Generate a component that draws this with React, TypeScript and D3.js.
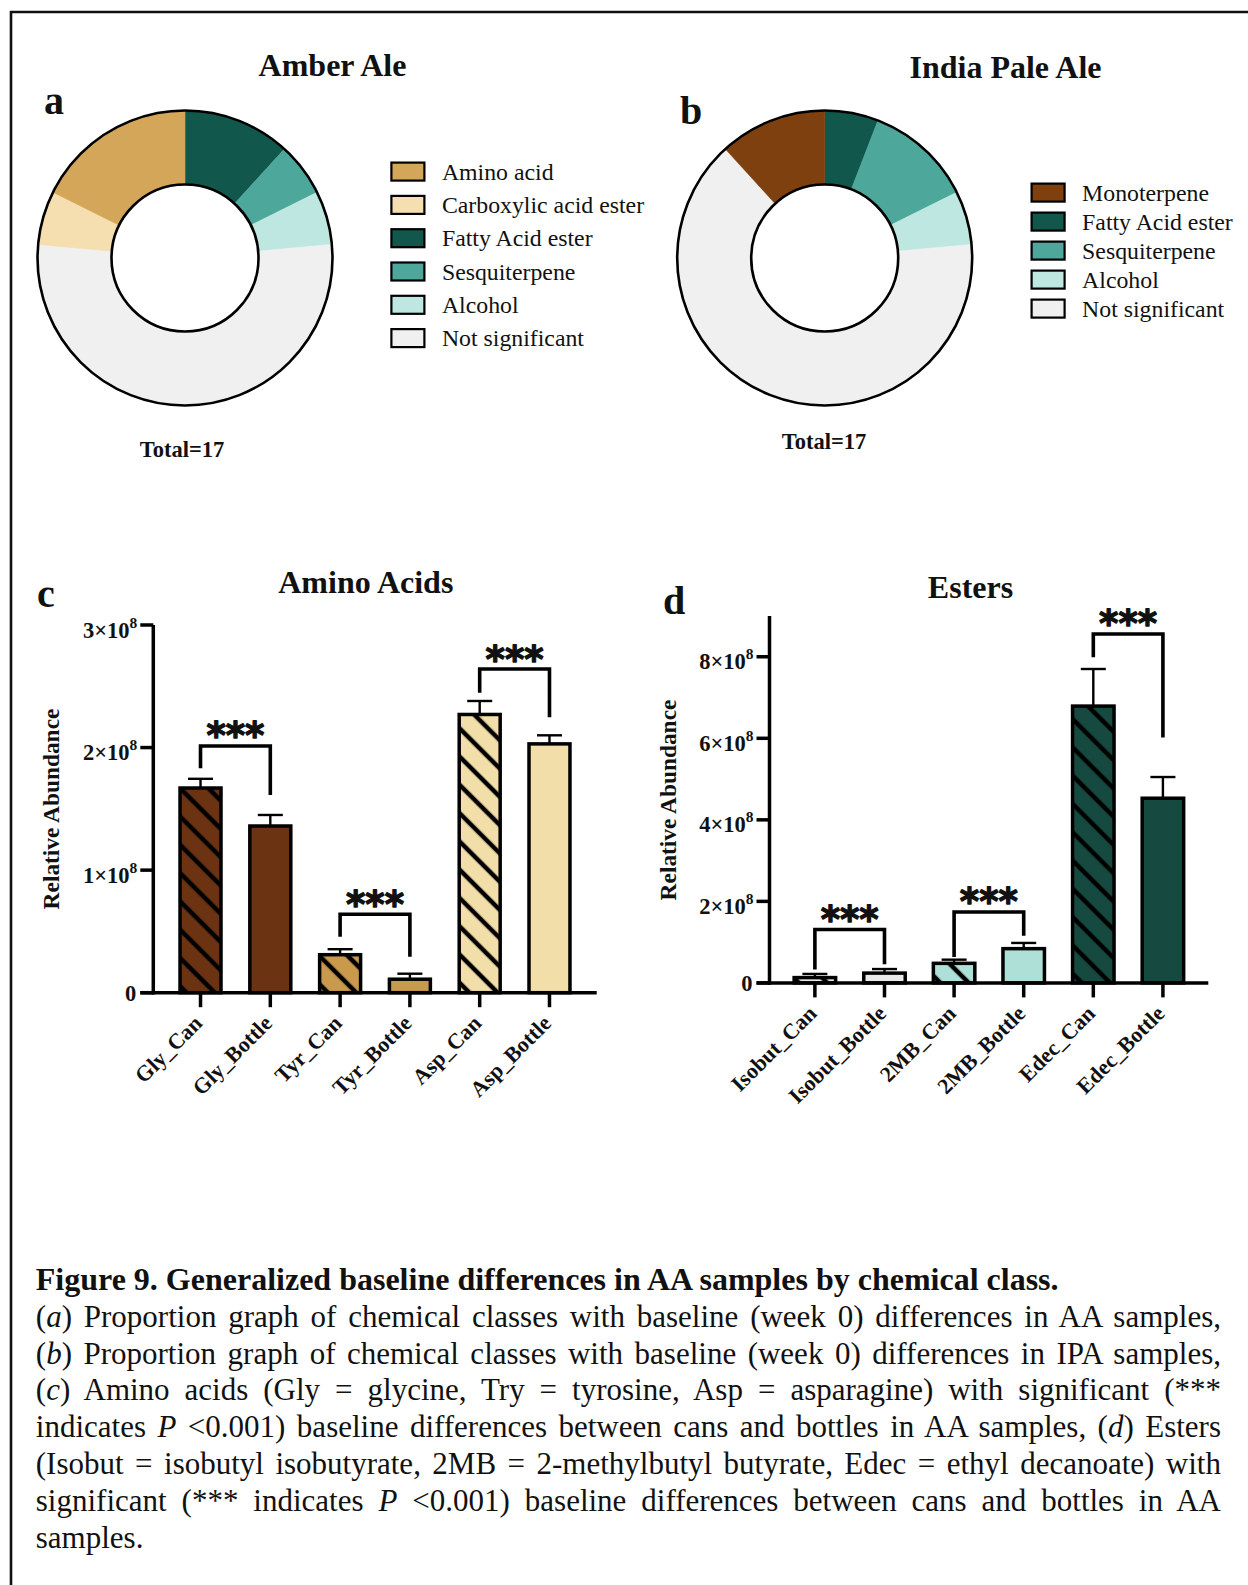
import React, { useEffect, useRef } from "react";
import * as d3 from "d3";

const SERIF = "'Liberation Serif', 'Times New Roman', serif";
const STAR_FONT = "'DejaVu Sans', sans-serif";

// ---------- Donut data ----------
const aaSlices = ["Fatty Acid ester", "Sesquiterpene", "Alcohol", "Not significant", "Carboxylic acid ester", "Amino acid"];
const aaCounts = [2, 1, 1, 9, 1, 3];
const aaLegend = ["Amino acid", "Carboxylic acid ester", "Fatty Acid ester", "Sesquiterpene", "Alcohol", "Not significant"];

const ipaSlices = ["Fatty Acid ester", "Sesquiterpene", "Alcohol", "Not significant", "Monoterpene"];
const ipaCounts = [1, 2, 1, 11, 2];
const ipaLegend = ["Monoterpene", "Fatty Acid ester", "Sesquiterpene", "Alcohol", "Not significant"];

const classColors: Record<string, string> = {
  "Amino acid": "#D3A659",
  "Carboxylic acid ester": "#F5DFB0",
  "Fatty Acid ester": "#12574B",
  "Sesquiterpene": "#4DA79A",
  "Alcohol": "#BFE7E1",
  "Not significant": "#F0F0F0",
  "Monoterpene": "#7F400F",
};

// ---------- Amino acids bar data ----------
const aminoLabels = ["Gly_Can", "Gly_Bottle", "Tyr_Can", "Tyr_Bottle", "Asp_Can", "Asp_Bottle"];
const aminoMeans = [1.67e8, 1.36e8, 0.31e8, 0.11e8, 2.27e8, 2.03e8];
const aminoErrors = [0.075e8, 0.09e8, 0.045e8, 0.045e8, 0.11e8, 0.07e8];
const aminoFills = ["#6B3311", "#6B3311", "#C99A4C", "#C99A4C", "#F2DEA9", "#F2DEA9"];
const aminoHatched = [true, false, true, false, true, false];
const aminoTicks = [0, 1e8, 2e8, 3e8];
const aminoBrackets = [
  { a: 0, b: 1, level: 2.013e8, leftEnd: 1.831e8, rightEnd: 1.613e8 },
  { a: 2, b: 3, level: 0.64e8, leftEnd: 0.457e8, rightEnd: 0.294e8 },
  { a: 4, b: 5, level: 2.641e8, leftEnd: 2.448e8, rightEnd: 2.247e8 },
];

// ---------- Esters bar data ----------
const esterLabels = ["Isobut_Can", "Isobut_Bottle", "2MB_Can", "2MB_Bottle", "Edec_Can", "Edec_Bottle"];
const esterMeans = [0.13e8, 0.24e8, 0.48e8, 0.84e8, 6.79e8, 4.53e8];
const esterErrors = [0.09e8, 0.1e8, 0.09e8, 0.14e8, 0.91e8, 0.52e8];
const esterFills = ["#E9E9E9", "#E9E9E9", "#AEE0D8", "#AEE0D8", "#164A40", "#164A40"];
const esterHatched = [true, false, true, false, true, false];
const esterTicks = [0, 2e8, 4e8, 6e8, 8e8];
const esterBrackets = [
  { a: 0, b: 1, level: 1.31e8, leftEnd: 0.33e8, rightEnd: 0.46e8 },
  { a: 2, b: 3, level: 1.74e8, leftEnd: 0.635e8, rightEnd: 1.157e8 },
  { a: 4, b: 5, level: 8.56e8, leftEnd: 7.99e8, rightEnd: 6.02e8 },
];

// ---------- Caption ----------
type Piece = { t: string; i?: boolean };
const captionTitle = "Figure 9. Generalized baseline differences in AA samples by chemical class.";
const captionLines: Piece[][] = [
  [{ t: "(" }, { t: "a", i: true }, { t: ") Proportion graph of chemical classes with baseline (week 0) differences in AA samples," }],
  [{ t: "(" }, { t: "b", i: true }, { t: ") Proportion graph of chemical classes with baseline (week 0) differences in IPA samples," }],
  [{ t: "(" }, { t: "c", i: true }, { t: ") Amino acids (Gly = glycine, Try = tyrosine, Asp = asparagine) with significant (***" }],
  [{ t: "indicates " }, { t: "P", i: true }, { t: " <0.001) baseline differences between cans and bottles in AA samples, (" }, { t: "d", i: true }, { t: ") Esters" }],
  [{ t: "(Isobut = isobutyl isobutyrate, 2MB = 2-methylbutyl butyrate, Edec = ethyl decanoate) with" }],
  [{ t: "significant (*** indicates " }, { t: "P", i: true }, { t: " <0.001) baseline differences between cans and bottles in AA" }],
  [{ t: "samples." }],
];

type Bracket = { a: number; b: number; level: number; leftEnd: number; rightEnd: number };

function Donut(props: {
  cx: number; cy: number; slices: string[]; counts: number[];
}) {
  const { cx, cy, slices, counts } = props;
  const pie = d3.pie<number>().sort(null).value((d) => d)(counts);
  const rOut = 147.5, rIn = 73.5;
  const arc = d3.arc<d3.PieArcDatum<number>>().innerRadius(rIn).outerRadius(rOut);
  return (
    <g transform={`translate(${cx},${cy})`}>
      {pie.map((p, i) => (
        <path key={i} d={arc(p) || ""} fill={classColors[slices[i]]} stroke={classColors[slices[i]]} strokeWidth={0.6} />
      ))}
      <circle r={rOut} fill="none" stroke="#000" strokeWidth={2.6} />
      <circle r={rIn} fill="#fff" stroke="#000" strokeWidth={2.6} />
    </g>
  );
}

function Legend(props: { x: number; y0: number; step: number; items: string[] }) {
  const { x, y0, step, items } = props;
  return (
    <g>
      {items.map((it, i) => {
        const cy = y0 + i * step;
        return (
          <g key={it}>
            <rect x={x} y={cy - 9} width={33} height={18} fill={classColors[it]} stroke="#000" strokeWidth={2.2} />
            <text x={x + 50.5} y={cy + 8} fontFamily={SERIF} fontSize={23.8} fill="#111">{it}</text>
          </g>
        );
      })}
    </g>
  );
}

function BarChart(props: {
  labels: string[]; means: number[]; errors: number[]; fills: string[]; hatched: boolean[];
  ticks: number[]; brackets: Bracket[]; xRange: [number, number]; pIn: number; pOut: number;
  yDomainMax: number; yRange: [number, number];
}) {
  const { labels, means, errors, fills, hatched, ticks, brackets, xRange, pIn, pOut, yDomainMax, yRange } = props;
  const x = d3.scaleBand<string>().domain(labels).range(xRange).paddingInner(pIn).paddingOuter(pOut);
  const y = d3.scaleLinear().domain([0, yDomainMax]).range(yRange);
  const bw = x.bandwidth();
  const cx = (l: string) => (x(l) as number) + bw / 2;
  const axisX = xRange[0];
  const y0 = y(0);
  const SW = 3.5;
  return (
    <g>
      {labels.map((l, i) => (
        <g key={l}>
          <rect x={x(l)} y={y(means[i])} width={bw} height={y0 - y(means[i])} fill={fills[i]} />
          {hatched[i] && (
            <rect x={x(l)} y={y(means[i])} width={bw} height={y0 - y(means[i])} fill="url(#hatch)" />
          )}
          <line x1={cx(l)} x2={cx(l)} y1={y(means[i])} y2={y(means[i] + errors[i])} stroke="#000" strokeWidth={2.4} />
          <line x1={cx(l) - 12.5} x2={cx(l) + 12.5} y1={y(means[i] + errors[i])} y2={y(means[i] + errors[i])} stroke="#000" strokeWidth={2.4} />
          <rect x={x(l)} y={y(means[i])} width={bw} height={y0 - y(means[i])} fill="none" stroke="#000" strokeWidth={SW} />
        </g>
      ))}
      {/* axes */}
      <line x1={axisX} x2={axisX} y1={y0 + SW / 2} y2={y(yDomainMax)} stroke="#000" strokeWidth={SW} />
      <line x1={axisX - 13} x2={xRange[1]} y1={y0} y2={y0} stroke="#000" strokeWidth={SW} />
      {ticks.map((t) => (
        <g key={t}>
          <line x1={axisX - 13} x2={axisX} y1={y(t)} y2={y(t)} stroke="#000" strokeWidth={SW} />
          {t === 0 ? (
            <text x={axisX - 17} y={y(t) + 8} textAnchor="end" fontFamily={SERIF} fontWeight="bold" fontSize={22.5} fill="#111">0</text>
          ) : (
            <text x={axisX - 16} y={y(t) + 12.5} textAnchor="end" fontFamily={SERIF} fontWeight="bold" fontSize={22.5} fill="#111">
              {`${t / 1e8}×10`}
              <tspan dy={-10} fontSize={15.5}>8</tspan>
            </text>
          )}
        </g>
      ))}
      {labels.map((l) => (
        <g key={"t" + l}>
          <line x1={cx(l)} x2={cx(l)} y1={y0} y2={y0 + 14.5} stroke="#000" strokeWidth={SW} />
          <text
            transform={`translate(${cx(l) + 3},${y0 + 32}) rotate(-45)`}
            textAnchor="end"
            fontFamily={SERIF}
            fontWeight="bold"
            fontSize={22}
            fill="#111"
          >
            {l}
          </text>
        </g>
      ))}
      {brackets.map((b, i) => {
        const xa = cx(labels[b.a]);
        const xb = cx(labels[b.b]);
        return (
          <g key={"b" + i}>
            <path
              d={`M${xa},${y(b.leftEnd)}V${y(b.level)}H${xb}V${y(b.rightEnd)}`}
              fill="none"
              stroke="#000"
              strokeWidth={3.6}
            />
            <text
              x={(xa + xb) / 2}
              y={y(b.level) - 19 + 21.5}
              textAnchor="middle"
              fontFamily={STAR_FONT}
              fontWeight="bold"
              fontSize={37}
              letterSpacing={0}
              fill="#111"
              stroke="#111"
              strokeWidth={1.3}
              strokeLinejoin="round"
            >
              ***
            </text>
          </g>
        );
      })}
    </g>
  );
}

export default function App() {
  const capRef = useRef<SVGGElement>(null);
  const capX = 35.8;
  const capRight = 1221;
  const capY0 = 1290;
  const capStep = 36.8;

  useEffect(() => {
    if (!capRef.current) return;
    d3.select(capRef.current)
      .selectAll<SVGTextElement, unknown>("text.just")
      .each(function () {
        const el = this as SVGTextElement;
        el.style.wordSpacing = "0px";
        const natural = el.getComputedTextLength();
        const target = capRight - capX;
        const spaces = (el.textContent || "").split(" ").length - 1;
        if (spaces > 0) el.style.wordSpacing = `${(target - natural) / spaces}px`;
      });
  }, []);

  return (
    <svg width={1248} height={1585} style={{ position: "absolute", left: 0, top: 0, background: "#fff" }}>
      <defs>
        <pattern id="hatch" patternUnits="userSpaceOnUse" width={20} height={20} patternTransform="rotate(-45)">
          <line x1={10} y1={-5} x2={10} y2={25} stroke="#000" strokeWidth={4.5} />
        </pattern>
      </defs>
      <rect x={0} y={0} width={1248} height={1585} fill="#fff" />
      {/* frame */}
      <line x1={10} x2={1248} y1={12} y2={12} stroke="#111" strokeWidth={2.6} />
      <line x1={11} x2={11} y1={11} y2={1585} stroke="#111" strokeWidth={2.6} />

      {/* Panel a */}
      <text x={332.5} y={76} textAnchor="middle" fontFamily={SERIF} fontWeight="bold" fontSize={32} fill="#111">Amber Ale</text>
      <text x={44} y={113.5} fontFamily={SERIF} fontWeight="bold" fontSize={40} fill="#111">a</text>
      <Donut cx={185} cy={258} slices={aaSlices} counts={aaCounts} />
      <Legend x={391.4} y0={171.6} step={33.3} items={aaLegend} />
      <text x={182} y={457} textAnchor="middle" fontFamily={SERIF} fontWeight="bold" fontSize={22.5} fill="#111">{`Total=${d3.sum(aaCounts)}`}</text>

      {/* Panel b */}
      <text x={1005.5} y={78} textAnchor="middle" fontFamily={SERIF} fontWeight="bold" fontSize={32} fill="#111">India Pale Ale</text>
      <text x={680} y={123.5} fontFamily={SERIF} fontWeight="bold" fontSize={40} fill="#111">b</text>
      <Donut cx={824.7} cy={258} slices={ipaSlices} counts={ipaCounts} />
      <Legend x={1031.6} y0={192.6} step={29} items={ipaLegend} />
      <text x={824} y={449} textAnchor="middle" fontFamily={SERIF} fontWeight="bold" fontSize={22.5} fill="#111">{`Total=${d3.sum(ipaCounts)}`}</text>

      {/* Panel c */}
      <text x={37} y={607} fontFamily={SERIF} fontWeight="bold" fontSize={40} fill="#111">c</text>
      <text x={365.8} y={593} textAnchor="middle" fontFamily={SERIF} fontWeight="bold" fontSize={32} fill="#111">Amino Acids</text>
      <text transform="translate(58.5,809) rotate(-90)" textAnchor="middle" fontFamily={SERIF} fontWeight="bold" fontSize={23.4} fill="#111">Relative Abundance</text>
      <BarChart
        labels={aminoLabels} means={aminoMeans} errors={aminoErrors} fills={aminoFills} hatched={aminoHatched}
        ticks={aminoTicks} brackets={aminoBrackets} xRange={[153.3, 596.7]} pIn={0.413} pOut={0.383}
        yDomainMax={3e8} yRange={[992.7, 625]}
      />

      {/* Panel d */}
      <text x={663} y={614} fontFamily={SERIF} fontWeight="bold" fontSize={40} fill="#111">d</text>
      <text x={970.5} y={598} textAnchor="middle" fontFamily={SERIF} fontWeight="bold" fontSize={32} fill="#111">Esters</text>
      <text transform="translate(676,800) rotate(-90)" textAnchor="middle" fontFamily={SERIF} fontWeight="bold" fontSize={23.4} fill="#111">Relative Abundance</text>
      <BarChart
        labels={esterLabels} means={esterMeans} errors={esterErrors} fills={esterFills} hatched={esterHatched}
        ticks={esterTicks} brackets={esterBrackets} xRange={[769.5, 1208.3]} pIn={0.404} pOut={0.354}
        yDomainMax={9e8} yRange={[982.9, 616]}
      />

      {/* Caption */}
      <g ref={capRef} fontFamily={SERIF} fill="#111">
        <text x={capX} y={capY0} fontWeight="bold" fontSize={32}>{captionTitle}</text>
        {captionLines.map((line, i) => (
          <text
            key={i}
            className={i < captionLines.length - 1 ? "just" : "last"}
            x={capX}
            y={capY0 + (i + 1) * capStep}
            fontSize={31}
          >
            {line.map((p, j) => (
              <tspan key={j} fontStyle={p.i ? "italic" : "normal"}>{p.t}</tspan>
            ))}
          </text>
        ))}
      </g>
    </svg>
  );
}
